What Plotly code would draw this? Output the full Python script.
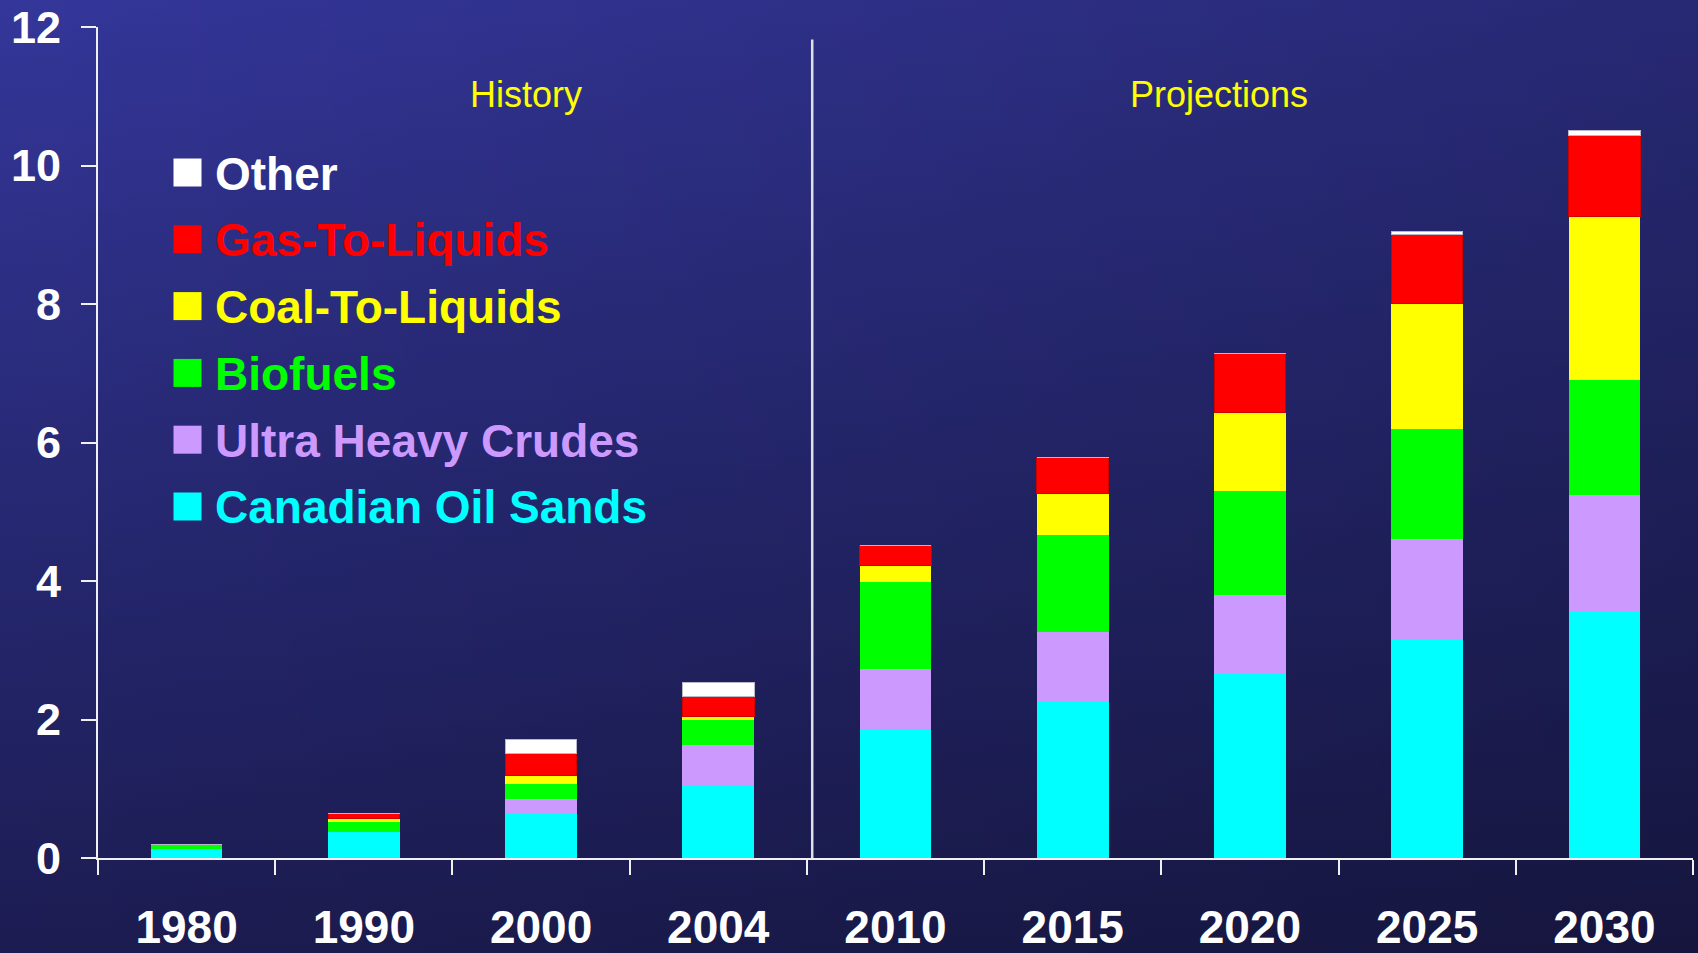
import base64
import plotly.graph_objects as go

# ---------------- data ----------------
years = ["1980", "1990", "2000", "2004", "2010", "2015", "2020", "2025", "2030"]
canadian_oil_sands = [0.13, 0.37, 0.655, 1.055, 1.86, 2.26, 2.66, 3.155, 3.555]
ultra_heavy_crudes = [0.0, 0.0, 0.20, 0.575, 0.87, 1.01, 1.14, 1.445, 1.69]
biofuels = [0.07, 0.145, 0.21, 0.36, 1.26, 1.40, 1.50, 1.60, 1.655]
coal_to_liquids = [0.0, 0.06, 0.12, 0.06, 0.23, 0.59, 1.13, 1.81, 2.36]
gas_to_liquids = [0.0, 0.07, 0.32, 0.28, 0.29, 0.53, 0.86, 0.99, 1.18]
other = [0.0, 0.0, 0.21, 0.21, 0.0, 0.0, 0.0, 0.05, 0.07]

series_names = ["Canadian Oil Sands", "Ultra Heavy Crudes", "Biofuels",
                "Coal-To-Liquids", "Gas-To-Liquids", "Other"]
series_values = [canadian_oil_sands, ultra_heavy_crudes, biofuels,
                 coal_to_liquids, gas_to_liquids, other]
series_colors = ["#00ffff", "#cc99ff", "#00ff00", "#ffff00", "#ff0000", "#ffffff"]
series_lines = [None, None, None, None, "#d00000", "#b8b8c8"]

section_labels = ["History", "Projections"]

# ---------------- geometry ----------------
W, H = 1698, 953
ML, MR, MT, MB = 98, 5, 27, 95
PW, PH = W - ML - MR, H - MT - MB


def px_x(px):
    return (px - ML) / PW


def px_y(py):
    return (H - MB - py) / PH


fig = go.Figure()
for name, vals, col, lc in zip(series_names, series_values, series_colors, series_lines):
    fig.add_trace(go.Bar(
        x=years, y=vals, name=name, marker_color=col,
        marker_line=dict(color=lc if lc else col, width=1 if lc else 0),
        showlegend=False, hoverinfo="x+y+name",
    ))

# background gradient as svg image
svg = f"""<svg xmlns='http://www.w3.org/2000/svg' width='{W}' height='{H}' viewBox='0 0 {W} {H}' preserveAspectRatio='none'>
<defs>
<linearGradient id='v' x1='0' y1='0' x2='0' y2='1'>
<stop offset='0' stop-color='#34369a'/>
<stop offset='0.5' stop-color='#272975'/>
<stop offset='1' stop-color='#1c1c52'/>
</linearGradient>
<linearGradient id='h' x1='0' y1='0' x2='1' y2='0'>
<stop offset='0' stop-color='#000000' stop-opacity='0'/>
<stop offset='1' stop-color='#000000' stop-opacity='0.25'/>
</linearGradient>
</defs>
<rect width='{W}' height='{H}' fill='url(#v)'/>
<rect width='{W}' height='{H}' fill='url(#h)'/>
</svg>"""
src = "data:image/svg+xml;base64," + base64.b64encode(svg.encode()).decode()

shapes = []
annotations = []

# divider between history and projections
shapes.append(dict(type="line", xref="x", yref="y", x0=3.53, x1=3.53, y0=0, y1=11.82,
                   line=dict(color="#e0e0ea", width=2.5)))
# y axis line extension below zero
shapes.append(dict(type="line", xref="paper", yref="paper", x0=0, x1=0, y0=0, y1=-15 / PH,
                   line=dict(color="#f0f0f0", width=2)))

# section labels
annotations.append(dict(text=section_labels[0], x=px_x(526), y=px_y(94), xref="paper", yref="paper",
                        showarrow=False, xanchor="center", yanchor="middle",
                        font=dict(family="Liberation Sans, Arial", size=36, color="#ffff00")))
annotations.append(dict(text=section_labels[1], x=px_x(1219), y=px_y(94), xref="paper", yref="paper",
                        showarrow=False, xanchor="center", yanchor="middle",
                        font=dict(family="Liberation Sans, Arial", size=36, color="#ffff00")))

# legend (top to bottom: reversed stacking order)
row0, step = 172.5, 66.8
for i, (name, col) in enumerate(zip(series_names[::-1], series_colors[::-1])):
    cy = row0 + i * step
    shapes.append(dict(type="rect", xref="paper", yref="paper",
                       x0=px_x(173.5), x1=px_x(201.5), y0=px_y(cy + 14), y1=px_y(cy - 14),
                       fillcolor=col, line=dict(width=0)))
    annotations.append(dict(text=name, x=px_x(213), y=px_y(cy + 1), xref="paper", yref="paper",
                            showarrow=False, xanchor="left", yanchor="middle",
                            font=dict(family="Liberation Sans, Arial", size=46, color=col,
                                      weight="bold")))

fig.update_layout(
    width=W, height=H, autosize=False,
    margin=dict(l=ML, r=MR, t=MT, b=MB, pad=0, autoexpand=False),
    barmode="stack", bargap=0.596,
    paper_bgcolor="#262873", plot_bgcolor="rgba(0,0,0,0)",
    images=[dict(source=src, xref="paper", yref="paper",
                 x=-ML / PW, y=1 + MT / PH, sizex=W / PW, sizey=H / PH,
                 sizing="stretch", layer="below", xanchor="left", yanchor="top")],
    shapes=shapes, annotations=annotations,
    xaxis=dict(type="category", range=[-0.5, 8.5], tickson="boundaries", automargin=False,
               ticks="outside", ticklen=15, tickwidth=2, tickcolor="#f0f0f0",
               showline=True, linecolor="#f0f0f0", linewidth=2, showgrid=False,
               tickfont=dict(family="Liberation Sans, Arial", size=46, color="white", weight="bold"),
               ticklabelstandoff=28),
    yaxis=dict(range=[0, 12], dtick=2, ticks="outside", ticklen=15, tickwidth=2, automargin=False,
               tickcolor="#f0f0f0", showline=True, linecolor="#f0f0f0", linewidth=2,
               showgrid=False, zeroline=False,
               tickfont=dict(family="Liberation Sans, Arial", size=45, color="white", weight="bold"),
               ticklabelstandoff=11),
)

fig.write_html("out.html", config={"displayModeBar": False},
               post_script="document.body.style.margin='0';document.body.style.overflow='hidden';")
